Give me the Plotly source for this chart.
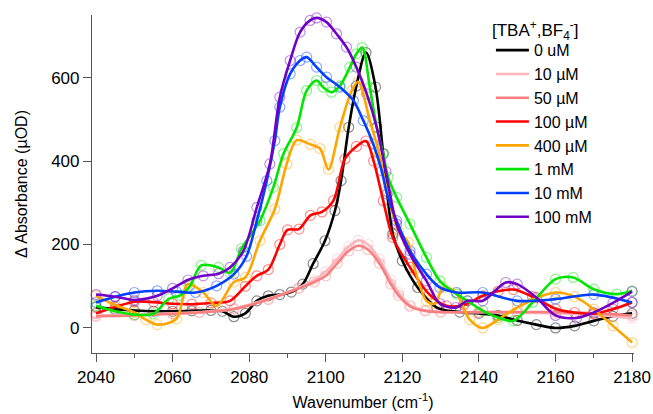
import plotly.graph_objects as go

# ---- data ----
labels = ["0 uM", "10 µM", "50 µM", "100 µM", "400 µM", "1 mM", "10 mM", "100 mM"]
colors = ["#000000", "#ffb6bd", "#f77f7f", "#ff0000", "#ffa500", "#00e600", "#0040ff", "#7000c8"]

x_0uM = [2040, 2045, 2050, 2055, 2060, 2065, 2070, 2073, 2076, 2079, 2082, 2085, 2088, 2091, 2094, 2096.7,
         2099.8, 2102.4, 2104, 2106, 2108, 2110.5, 2113, 2115, 2117.5, 2120, 2124, 2129, 2135, 2140, 2145,
         2150, 2155, 2160, 2165, 2170, 2175, 2180]
y_0uM = [50, 45, 42, 40, 40, 41, 42, 40, 27, 35, 65, 77, 80, 86, 105, 154,
         209, 281, 353, 481, 580, 660, 577, 418, 225, 161, 97, 49, 38, 35, 30,
         18, 8, 0, 5, 17, 28, 35]

x_10uM = [2040, 2050, 2060, 2067, 2076, 2085, 2093, 2097, 2100, 2103, 2106, 2108.5, 2111, 2114, 2117, 2119,
          2122, 2126, 2130, 2140, 2150, 2160, 2170, 2180]
y_10uM = [30, 32, 35, 38, 47, 70, 97, 115, 135, 165, 195, 210, 200, 165, 115, 85,
          55, 42, 38, 38, 37, 35, 32, 24]

x_50uM = x_10uM
y_50uM = [28, 30, 34, 37, 45, 68, 95, 110, 125, 155, 185, 197, 188, 155, 105, 78,
          52, 41, 38, 38, 38, 38, 35, 30]

x_100uM = [2040, 2045, 2050, 2055, 2060, 2065, 2070, 2075, 2079, 2082, 2085, 2088, 2090, 2093, 2096, 2099,
           2102, 2105, 2108, 2110.5, 2112.5, 2115, 2117.5, 2122, 2127, 2131.5, 2136, 2141, 2145, 2149,
           2154, 2160, 2165, 2170, 2175, 2180]
y_100uM = [35, 50, 63, 62, 58, 57, 60, 65, 100, 125, 140, 200, 235, 237, 270, 278,
           305, 405, 435, 448, 400, 305, 217, 145, 81, 53, 55, 77, 88, 92,
           75, 46, 37, 34, 45, 61]

x_400uM = [2040, 2045, 2050, 2053, 2056, 2061, 2064, 2068, 2071.5, 2076, 2079, 2082.8, 2086.7, 2089.8,
           2092.4, 2096, 2098.5, 2100.7, 2103.7, 2106.8, 2108.5, 2111.5, 2114, 2116, 2119, 2121.5,
           2123.3, 2126.3, 2128.5, 2130.7, 2134, 2137.6, 2141, 2145, 2150, 2155, 2160, 2165, 2170,
           2175, 2180]
y_400uM = [77, 55, 37, 20, 8, 22, 105, 85, 53, 110, 121, 209, 285, 393,
           450, 440, 430, 380, 481, 569, 590, 497, 417, 329, 233, 205,
           140, 65, 58, 97, 85, 20, 0, 20, 49, 72, 85, 75, 45,
           5, -35]

x_1mM = [2040, 2045, 2050, 2055, 2059, 2062, 2064.5, 2067.5, 2072, 2075, 2078, 2082.8, 2086.3, 2089,
         2092.4, 2095, 2097.6, 2099.3, 2101.5, 2103.7, 2106.3, 2108, 2109.5, 2111.5, 2113.3, 2115,
         2116.3, 2118.5, 2122, 2126.3, 2129.8, 2134.2, 2137, 2141, 2145, 2149, 2154, 2160, 2164.6,
         2170, 2176, 2180]
y_1mM = [53, 40, 32, 34, 70, 78, 100, 150, 145, 132, 190, 257, 337, 418,
         480, 569, 593, 577, 565, 580, 625, 657, 672, 577, 481, 417,
         361, 313, 249, 169, 113, 81, 65, 41, 25, 17, 61, 117, 121,
         93, 81, 89]

x_10mM = [2040, 2045, 2050, 2056, 2061, 2066, 2071.5, 2076, 2079.3, 2082, 2084.6, 2086.7, 2088, 2090.7,
          2093.3, 2095, 2097.6, 2100.2, 2103.7, 2107.2, 2109.8, 2112.4, 2114.6, 2116, 2118.5, 2122,
          2126.3, 2129.8, 2134.2, 2141, 2150, 2160, 2170, 2180]
y_10mM = [61, 75, 85, 89, 87, 85, 101, 129, 172, 257, 353, 449, 529, 609,
          641, 649, 625, 601, 577, 545, 497, 441, 377, 321, 257, 185,
          129, 97, 85, 85, 65, 69, 80, 61]

x_100mM = [2040, 2045, 2050, 2056, 2060, 2064, 2068, 2072, 2075, 2078.5, 2082, 2085.4, 2088, 2090.7,
           2093.3, 2095.9, 2097.6, 2100.2, 2102.8, 2105.4, 2108, 2110.7, 2113.3, 2115.7, 2118.5, 2122,
           2126.3, 2129.8, 2134, 2137, 2141, 2147, 2150, 2155, 2160, 2165.5, 2170, 2175, 2180]
y_100mM = [80, 75, 67, 77, 95, 115, 125, 130, 145, 185, 289, 393, 553, 641,
           709, 737, 743, 733, 705, 673, 625, 561, 481, 375, 249, 177,
           113, 58, 49, 65, 65, 109, 105, 73, 30, 24, 37, 60, 87]

series_x = [x_0uM, x_10uM, x_50uM, x_100uM, x_400uM, x_1mM, x_10mM, x_100mM]
series_y = [y_0uM, y_10uM, y_50uM, y_100uM, y_400uM, y_1mM, y_10mM, y_100mM]

x_ticks = [2040, 2060, 2080, 2100, 2120, 2140, 2160, 2180]
y_ticks = [0, 200, 400, 600]

legend_title = "[TBA<sup>+</sup>,BF<sub>4</sub><sup>-</sup>]"

FONT = "Liberation Sans, Arial, sans-serif"

fig = go.Figure()

# open-circle data markers (behind lines)
for xs, ys, c in zip(series_x, series_y, colors):
    fig.add_trace(go.Scatter(
        x=xs, y=ys, mode="markers", showlegend=False, hoverinfo="skip",
        marker=dict(symbol="circle-open", size=10, color=c, opacity=0.45, line=dict(width=1.2)),
        cliponaxis=False,
    ))

# smooth fit lines
for xs, ys, c, name in zip(series_x, series_y, colors, labels):
    fig.add_trace(go.Scatter(
        x=xs, y=ys, mode="lines", name=name,
        line=dict(color=c, width=2.6, shape="spline", smoothing=0.9),
    ))

fig.add_annotation(
    text=legend_title, xref="paper", yref="paper", x=0.734, y=0.955,
    xanchor="left", yanchor="middle", showarrow=False,
    font=dict(family=FONT, size=17, color="black"),
)

fig.update_layout(
    width=653, height=414,
    margin=dict(l=92, r=19, t=15, b=61),
    paper_bgcolor="white", plot_bgcolor="white",
    font=dict(family=FONT, size=17, color="black"),
    showlegend=True,
    legend=dict(
        x=0.736, y=0.946, xanchor="left", yanchor="top",
        bgcolor="rgba(0,0,0,0)",
        font=dict(size=16),
        tracegroupgap=0,
        itemwidth=33,
    ),
    xaxis=dict(
        range=[2038.95, 2180.5], automargin=False,
        tickvals=x_ticks, ticktext=[str(v) for v in x_ticks],
        ticks="outside", ticklen=8, tickwidth=1.2, tickcolor="#555555",
        showline=True, linecolor="#555555", linewidth=1.2,
        showgrid=False, zeroline=False,
        minor=dict(dtick=10, tick0=2040, ticks="outside", ticklen=4, tickcolor="#555555", tickwidth=1.2),
        title=dict(text="Wavenumber (cm<sup>-1</sup>)", font=dict(size=16), standoff=11),
        tickfont=dict(size=17),
    ),
    yaxis=dict(
        range=[-60, 750], automargin=False,
        tickvals=y_ticks, ticktext=[str(v) for v in y_ticks],
        ticks="outside", ticklen=8, tickwidth=1.2, tickcolor="#555555",
        showline=True, linecolor="#555555", linewidth=1.2,
        showgrid=False, zeroline=False,
        title=dict(text="Δ Absorbance (µOD)", font=dict(size=16), standoff=19),
        tickfont=dict(size=17),
    ),
)

# remove the page's default 8 px body margin so the figure fills the window exactly
fig.write_html(
    "out.html",
    config={"displayModeBar": False},
    post_script="document.body.style.margin='0';document.body.style.overflow='hidden';",
)
